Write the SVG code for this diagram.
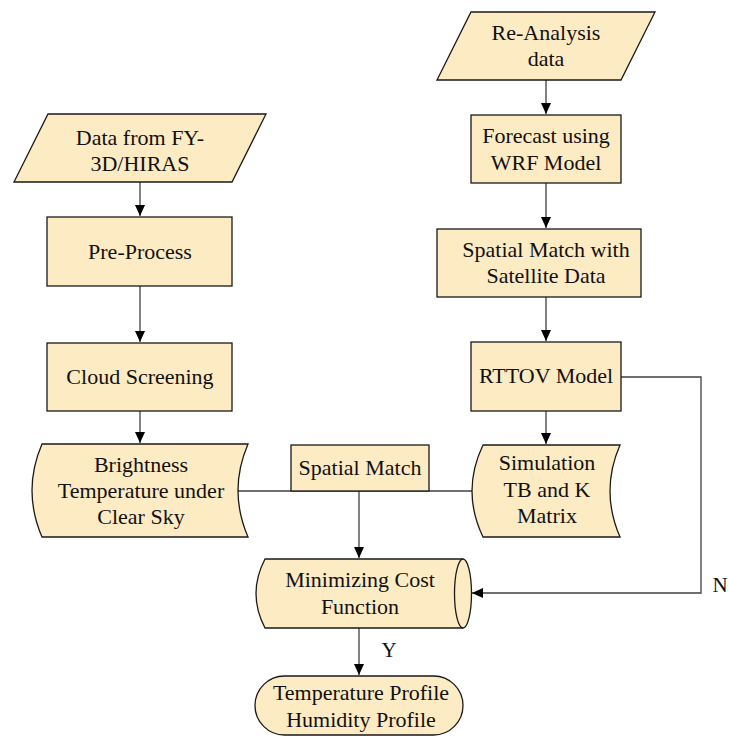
<svg xmlns="http://www.w3.org/2000/svg" width="729" height="737" viewBox="0 0 729 737">
<style>
.s{fill:#FDEBC4;stroke:#1a1a1a;stroke-width:1.3}
.c{fill:none;stroke:#404040;stroke-width:1.3}
</style>
<defs>
<marker id="a" markerUnits="userSpaceOnUse" markerWidth="12" markerHeight="10" refX="11" refY="5" orient="auto">
<path d="M0,0 L11,5 L0,10 Z" fill="#000"/>
</marker>
</defs>
<g id="connectors">
<path class="c" d="M140,182 V216" marker-end="url(#a)"/>
<path class="c" d="M140,286 V342" marker-end="url(#a)"/>
<path class="c" d="M140,411 V443" marker-end="url(#a)"/>
<path class="c" d="M546,80 V114" marker-end="url(#a)"/>
<path class="c" d="M546,183 V228" marker-end="url(#a)"/>
<path class="c" d="M546,297 V341" marker-end="url(#a)"/>
<path class="c" d="M546,411 V444" marker-end="url(#a)"/>
<path class="c" d="M238,491 H472"/>
<path class="c" d="M359,491 V558" marker-end="url(#a)"/>
<path class="c" d="M621,377 H701 V593 H472" marker-end="url(#a)"/>
<path class="c" d="M359,628 V675" marker-end="url(#a)"/>
</g>
<g font-family="Liberation Serif, Times New Roman, serif" font-size="22" fill="#111" text-anchor="middle">
<g id="n-fy3d">
<path class="s" d="M48,114 H266 L232,182 H14 Z"/>
<text x="140" y="145">Data from FY-</text>
<text x="140" y="171">3D/HIRAS</text>
</g>
<g id="n-preprocess">
<rect class="s" x="47" y="217" width="185" height="69"/>
<text x="140" y="259">Pre-Process</text>
</g>
<g id="n-cloud">
<rect class="s" x="47" y="343" width="185" height="68"/>
<text x="140" y="384">Cloud Screening</text>
</g>
<g id="n-brightness">
<path class="s" d="M42,444 H248 Q228,490.5 248,537 H42 Q22,490.5 42,444 Z"/>
<text x="141" y="472">Brightness</text>
<text x="141" y="498">Temperature under</text>
<text x="141" y="524">Clear Sky</text>
</g>
<g id="n-reanalysis">
<path class="s" d="M471,12 H655 L621,80 H437 Z"/>
<text x="546" y="40">Re-Analysis</text>
<text x="546" y="66">data</text>
</g>
<g id="n-wrf">
<rect class="s" x="471" y="115" width="150" height="68"/>
<text x="546" y="143">Forecast using</text>
<text x="546" y="170">WRF Model</text>
</g>
<g id="n-spatialsat">
<rect class="s" x="437" y="229" width="204" height="68"/>
<text x="546" y="257">Spatial Match with</text>
<text x="546" y="283">Satellite Data</text>
</g>
<g id="n-rttov">
<rect class="s" x="471" y="342" width="150" height="69"/>
<text x="546" y="383">RTTOV Model</text>
</g>
<g id="n-simulation">
<path class="s" d="M483,445 H620 Q600,491 620,537 H483 Q461,491 483,445 Z"/>
<text x="547" y="470">Simulation</text>
<text x="547" y="497">TB and K</text>
<text x="547" y="523">Matrix</text>
</g>
<g id="n-spatialmatch">
<rect class="s" x="291" y="445" width="138" height="46"/>
<text x="360" y="475">Spatial Match</text>
</g>
<g id="n-minimizing">
<path class="s" d="M265,559 H463 A8.5,34.5 0 0 1 463,628 H265 Q247,593.5 265,559 Z"/>
<path class="s" d="M463,559 A8.5,34.5 0 0 0 463,628" fill="none"/>
<text x="360" y="587">Minimizing Cost</text>
<text x="360" y="614">Function</text>
</g>
<g id="n-profile">
<rect class="s" x="255" y="676" width="208" height="59" rx="29.5"/>
<text x="361" y="700">Temperature Profile</text>
<text x="361" y="727">Humidity Profile</text>
</g>
<g id="labels" font-size="21">
<text x="389" y="657">Y</text>
<text x="720" y="592">N</text>
</g>
</g>
</svg>
